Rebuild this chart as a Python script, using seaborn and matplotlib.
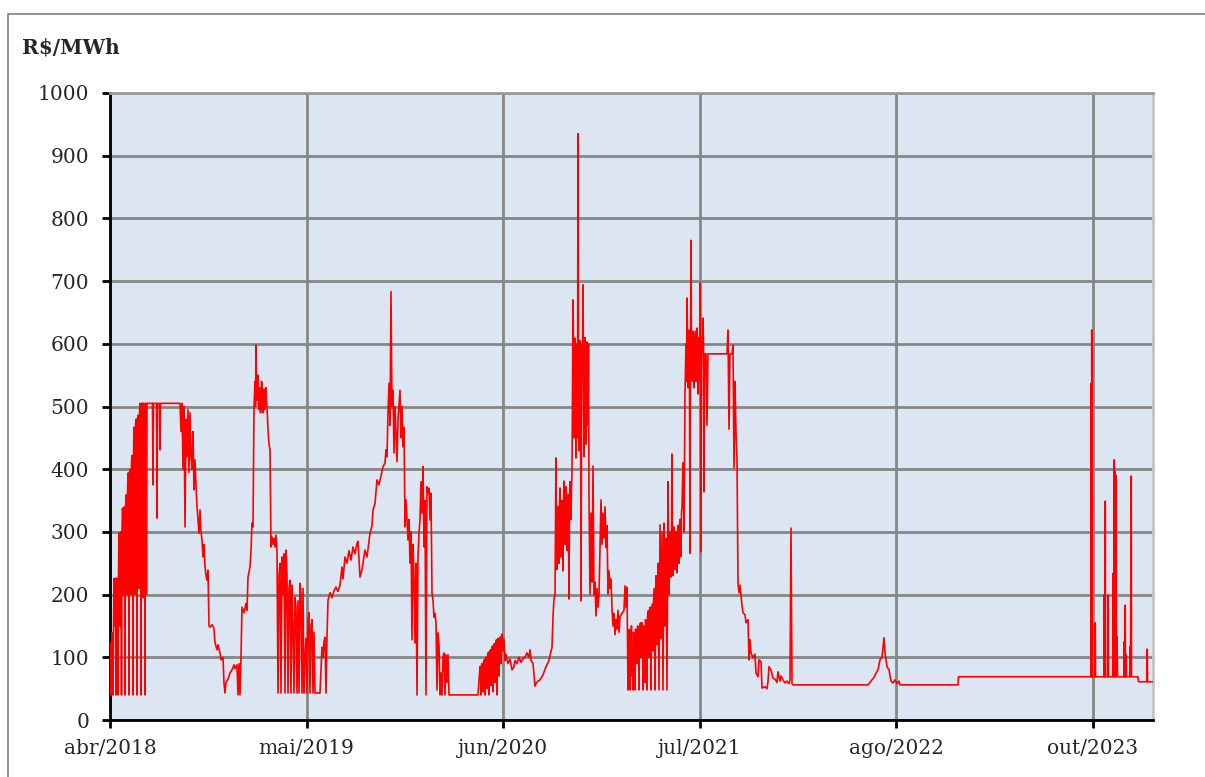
import pandas as pd
import matplotlib
matplotlib.use('Agg')
import matplotlib.pyplot as plt
from matplotlib.patches import Rectangle
import seaborn as sns

# PLD horario (R$/MWh) - pares (dia desde abr/2018, valor)
trecho_2018 = [
  (0, 40), (1, 123), (2, 110), (3, 40), (4, 139), (5, 130), (6, 40), (7, 140), (8, 226),
  (9, 215), (10, 150), (11, 226), (12, 40), (13, 220), (14, 226), (15, 200), (16, 40),
  (17, 230), (18, 298), (19, 280), (20, 150), (21, 300), (22, 290), (23, 40), (24, 300),
  (25, 338), (26, 320), (27, 200), (28, 338), (29, 340), (30, 40), (31, 330), (32, 359),
  (33, 350), (34, 200), (35, 360), (36, 394), (37, 380), (38, 40), (39, 394), (40, 400),
  (41, 390), (42, 200), (43, 410), (44, 422), (45, 415), (46, 40), (47, 420), (48, 467),
  (49, 450), (50, 200), (51, 470), (52, 480), (53, 465), (54, 40), (55, 480), (56, 486),
  (57, 475), (58, 210), (59, 490), (60, 505), (61, 495), (62, 40), (63, 505), (64, 500),
  (65, 505), (66, 195), (67, 505), (68, 505), (69, 490), (70, 40), (71, 505), (72, 505),
  (73, 200), (74, 505), (75, 505), (76, 505), (80, 505),
  (85, 505), (86, 375), (87, 505), (93, 505), (94, 322), (95, 505), (99, 505), (100, 431),
  (101, 505), (140, 505), (142, 460), (144, 505), (146, 400), (148, 500), (150, 308),
  (152, 480), (154, 420), (156, 495), (158, 395), (160, 490), (162, 420), (164, 400),
  (166, 460), (168, 367), (170, 415), (172, 375), (174, 340), (176, 320), (178, 298),
  (180, 335), (182, 300), (184, 287), (186, 260), (188, 280), (190, 245), (192, 230),
  (194, 223), (196, 239), (198, 150), (200, 148), (204, 152), (208, 146), (210, 123),
  (214, 112), (216, 120), (220, 107), (222, 96), (226, 100), (228, 59), (230, 43),
  (232, 60), (236, 65), (240, 75), (244, 80), (248, 88), (250, 82), (254, 88), (256, 40),
  (258, 90), (260, 40), (262, 100), (264, 180), (268, 171), (272, 186), (274, 175),
  (276, 228), (280, 244), (282, 271), (284, 314), (286, 308),
]

trecho_2019 = [
  (288, 499), (289, 520), (290, 540), (291, 500), (292, 598), (293, 530), (294, 510),
  (295, 540), (296, 550), (297, 505), (298, 495), (299, 525), (300, 530), (301, 490),
  (302, 500), (303, 540), (304, 535), (305, 500), (306, 490), (307, 520), (308, 528),
  (309, 495), (310, 505), (311, 525), (312, 530), (313, 510), (314, 500),
  (316, 463), (318, 440), (320, 431), (322, 276), (324, 292), (326, 280), (328, 290),
  (330, 276), (332, 295), (334, 270), (336, 43), (338, 230), (340, 250), (342, 43),
  (344, 260), (346, 200), (348, 265), (350, 43), (352, 271), (354, 230), (356, 43),
  (358, 210), (360, 223), (362, 43), (364, 215), (366, 150), (368, 43), (370, 196),
  (372, 180), (374, 43), (376, 190), (378, 43), (380, 218), (382, 200), (384, 43),
  (386, 210), (388, 43), (390, 100), (392, 130), (394, 43), (396, 160), (398, 171),
  (400, 43), (402, 150), (404, 160), (406, 43), (408, 140), (410, 43), (420, 43),
  (422, 80), (424, 116), (426, 100), (428, 125), (430, 132), (432, 43), (434, 132),
  (436, 191), (440, 203), (444, 195), (448, 206), (452, 212), (456, 205), (460, 215),
  (464, 244), (466, 225), (470, 260), (474, 250), (478, 270), (482, 255), (486, 276),
  (490, 265), (494, 282), (496, 285), (500, 228), (504, 240), (510, 271), (514, 260),
  (520, 298), (524, 310), (526, 335), (530, 345), (534, 383), (538, 375), (546, 404),
  (550, 410), (552, 431), (554, 420), (556, 490), (558, 537), (560, 470), (562, 683),
  (564, 500), (566, 526), (568, 426), (570, 500), (574, 412), (576, 480), (580, 526),
  (582, 450), (584, 500), (586, 436), (588, 467), (590, 308), (592, 351), (594, 320),
  (596, 287), (598, 320), (600, 250), (602, 300), (604, 128), (606, 280), (608, 228),
  (610, 123), (612, 250), (614, 40), (616, 260), (618, 298), (620, 320), (622, 380),
  (624, 330), (626, 404), (628, 276), (630, 350), (632, 40), (634, 372), (636, 362),
  (638, 370), (640, 319), (642, 362), (644, 203), (646, 191), (648, 164), (650, 170),
  (652, 155), (654, 48), (656, 139), (658, 120), (660, 40), (662, 75), (664, 40),
  (666, 100), (668, 107), (670, 40), (672, 104), (674, 60), (676, 104), (678, 40),
  (680, 40), (736, 40),
]

trecho_2020 = [
  (740, 85), (741, 80), (742, 40), (743, 88), (744, 90), (745, 85), (746, 45), (747, 92),
  (748, 95), (749, 96), (750, 40), (751, 98), (752, 100), (753, 95), (754, 50), (755, 102),
  (756, 105), (757, 108), (758, 40), (759, 105), (760, 110), (761, 112), (762, 55),
  (763, 108), (764, 115), (765, 118), (766, 45), (767, 115), (768, 120), (769, 122),
  (770, 60), (771, 118), (772, 125), (773, 128), (774, 40), (775, 125), (776, 130),
  (777, 128), (778, 70), (779, 130), (780, 132), (781, 128), (782, 90), (783, 135),
  (784, 137), (785, 130), (786, 110), (788, 128), (790, 95), (792, 105), (796, 90), (800, 97),
  (804, 80), (808, 85), (810, 95), (814, 90), (818, 100), (822, 92), (826, 98),
  (830, 100), (834, 107), (838, 100), (840, 112), (842, 95), (846, 90), (850, 54),
  (852, 58), (856, 62), (860, 64), (866, 72), (872, 85), (878, 95), (882, 110),
  (884, 115), (886, 166), (888, 193), (890, 200), (892, 418), (893, 300), (894, 240),
  (895, 330), (896, 340), (897, 280), (898, 250), (899, 340), (900, 370), (901, 300),
  (902, 260), (903, 330), (904, 350), (905, 290), (906, 238), (907, 350), (908, 381),
  (909, 320), (910, 280), (911, 350), (912, 372), (913, 300), (914, 270), (915, 340),
  (916, 360), (917, 300), (918, 193), (919, 350), (920, 380), (921, 340), (922, 320),
  (923, 370), (924, 394), (925, 520), (926, 670), (927, 600), (928, 450), (929, 480),
  (930, 609), (931, 560), (932, 418), (933, 590), (934, 600), (935, 450), (936, 935),
  (937, 600), (938, 430), (939, 520), (940, 605), (941, 580), (942, 190), (943, 450),
  (944, 600), (945, 590), (946, 694), (947, 560), (948, 420), (949, 470), (950, 610),
  (951, 595), (952, 440), (953, 500), (954, 603), (955, 560), (956, 470), (957, 600),
  (958, 357), (960, 201), (962, 330), (964, 220), (966, 405),
  (968, 200), (970, 220), (972, 166), (974, 210), (976, 180), (978, 200), (980, 273),
  (982, 351), (984, 280), (986, 330), (988, 290), (990, 340), (992, 275), (994, 310),
  (996, 201), (998, 238), (1000, 210), (1002, 225), (1004, 177), (1006, 150),
  (1008, 170), (1010, 136), (1012, 160), (1014, 145), (1016, 175), (1018, 140),
  (1020, 165), (1024, 170), (1028, 175), (1030, 214), (1032, 180), (1034, 212),
]

trecho_2021 = [
  (1036, 48), (1037, 130), (1038, 144), (1039, 120), (1040, 48), (1041, 135), (1042, 140),
  (1043, 150), (1044, 70), (1045, 120), (1046, 48), (1047, 140), (1048, 130), (1049, 125),
  (1050, 48), (1051, 145), (1052, 140), (1053, 135), (1054, 90), (1055, 150), (1056, 148),
  (1057, 140), (1058, 48), (1059, 145), (1060, 150), (1061, 155), (1062, 100), (1063, 140),
  (1064, 155), (1065, 150), (1066, 48), (1067, 150), (1068, 145), (1069, 140), (1070, 60),
  (1071, 160), (1072, 150), (1073, 150), (1074, 48), (1075, 165), (1076, 170), (1077, 175),
  (1078, 100), (1079, 160), (1080, 180), (1081, 170), (1082, 48), (1083, 180), (1084, 175),
  (1085, 185), (1086, 110), (1087, 190), (1088, 200), (1089, 210), (1090, 48),
  (1092, 230), (1094, 120), (1096, 250), (1098, 48), (1100, 311), (1102, 130), (1104, 300),
  (1106, 48), (1108, 314), (1110, 150), (1112, 290), (1114, 48), (1116, 380), (1118, 200),
  (1120, 300), (1121, 260), (1122, 228), (1123, 290), (1124, 424), (1125, 280), (1126, 230),
  (1127, 290), (1128, 308), (1129, 260), (1130, 240), (1131, 300), (1132, 300), (1133, 250),
  (1134, 235), (1135, 300), (1136, 310), (1137, 270), (1138, 250), (1139, 310), (1140, 320),
  (1141, 280), (1142, 260), (1143, 330), (1144, 340), (1146, 410), (1148, 300), (1150, 520),
  (1151, 560), (1152, 600), (1153, 540), (1154, 673), (1155, 600), (1156, 530), (1157, 610),
  (1158, 622), (1159, 540), (1160, 266), (1161, 600), (1162, 765), (1163, 590), (1164, 560),
  (1165, 540), (1166, 620), (1167, 600), (1168, 530), (1169, 560), (1170, 610), (1171, 620),
  (1172, 540), (1173, 560), (1174, 625), (1175, 590), (1176, 520), (1177, 610), (1178, 600),
  (1179, 540), (1180, 697), (1181, 600), (1182, 268), (1183, 560), (1184, 610), (1185, 590),
  (1186, 641), (1187, 600), (1188, 364), (1189, 540),
  (1190, 584), (1192, 584), (1194, 470), (1196, 584), (1234, 584), (1236, 622), (1238, 464),
  (1240, 584), (1244, 584), (1246, 598), (1248, 402), (1250, 540), (1252, 457), (1254, 415),
  (1256, 218), (1258, 203), (1260, 215), (1264, 183), (1266, 171), (1270, 168), (1272, 155),
  (1276, 160), (1278, 96), (1280, 128), (1282, 107), (1286, 99), (1290, 105), (1292, 75),
  (1296, 69), (1298, 96), (1302, 93), (1304, 51), (1310, 53), (1314, 50), (1316, 61),
  (1318, 85), (1322, 80), (1326, 67), (1330, 65), (1334, 60), (1336, 77), (1340, 62),
  (1342, 70), (1346, 64), (1350, 59), (1354, 62), (1358, 58), (1360, 64), (1362, 306),
  (1364, 58), (1366, 56),
]

trecho_2022 = [
  (1516, 56), (1522, 62), (1528, 68), (1532, 75), (1536, 80), (1540, 96), (1544, 100),
  (1548, 131), (1550, 107), (1554, 85), (1558, 80), (1562, 62), (1566, 59), (1570, 64),
  (1574, 58), (1578, 62), (1580, 56), (1696, 56),
]

trecho_2023 = [
  (1697, 69), (1962, 69), (1962.5, 537), (1963, 69), (1963.5, 622), (1964, 351), (1964.5, 69),
  (1970, 69), (1970.5, 155), (1971, 69), (1988, 69), (1988.5, 199), (1989, 69),
  (1990, 69), (1990.5, 349), (1991, 136), (1991.5, 69), (1996, 69), (1996.5, 199),
  (1997, 69), (2006, 69), (2006.5, 234), (2007, 69), (2008, 69), (2008.5, 415), (2009, 69),
  (2010, 396), (2011, 69), (2012, 390), (2013, 69), (2014, 133), (2015, 69), (2028, 69),
  (2028.5, 125), (2029, 69), (2030, 69), (2030.5, 183), (2031, 69), (2032, 69),
  (2032.5, 104), (2033, 69), (2040, 69), (2040.5, 117), (2041, 69), (2042, 324),
  (2042.5, 389), (2043, 69), (2056, 69),
]

trecho_2024 = [
  (2057, 61), (2074, 61), (2074.5, 113), (2075, 61), (2086, 61),
]

rotulos_x = ['abr/2018', 'mai/2019', 'jun/2020', 'jul/2021', 'ago/2022', 'out/2023']
ticks_x = [0, 393, 786, 1179, 1572, 1965]
ticks_y = list(range(0, 1001, 100))

trechos = trecho_2018 + trecho_2019 + trecho_2020 + trecho_2021 + trecho_2022 + trecho_2023 + trecho_2024
df = pd.DataFrame(trechos, columns=['dia', 'pld'])

sns.set_style('white')
plt.rcParams['font.family'] = ['DejaVu Serif']
# sem simplificacao, senao as oscilacoes densas somem
plt.rcParams['path.simplify'] = False

fig = plt.figure(figsize=(12.05, 7.77), dpi=100)
ax = fig.add_axes([110/1205, 1 - 720/777, 1043/1205, 627/777])
ax.set_facecolor('#DCE6F2')

sns.lineplot(data=df, x='dia', y='pld', ax=ax, color='#FF0000', lw=1.2,
             estimator=None, sort=False, zorder=3)

ax.set_xlim(0, 2086)
ax.set_ylim(0, 1000)
ax.set_xticks(ticks_x)
ax.set_xticklabels(rotulos_x)
ax.set_yticks(ticks_y)
ax.set_xlabel('')
ax.set_ylabel('')

ax.grid(True, color='#868686', lw=2, zorder=1)
ax.set_axisbelow(True)

for lado in ['left', 'bottom']:
  ax.spines[lado].set_color('black')
  ax.spines[lado].set_linewidth(2)
ax.spines['top'].set_color('#9A9A9A')
ax.spines['top'].set_linewidth(2)
ax.spines['right'].set_color('#C4C4C4')
ax.spines['right'].set_linewidth(2)

ax.tick_params(axis='y', direction='out', length=6, width=2, color='black',
               labelsize=14.5, pad=9, left=True)
ax.tick_params(axis='x', direction='out', length=6, width=2, color='black',
               labelsize=14.5, pad=8, bottom=True)

fig.text(22/1205, 1 - 47/777, 'R$/MWh', fontsize=14.5, fontweight='bold',
         ha='left', va='center')

# moldura do grafico
fig.patches.append(Rectangle((8/1205, -0.1), 1.2, 1.1 - 14/777, transform=fig.transFigure,
                             fill=False, edgecolor='#7F7F7F', lw=1.2, figure=fig))

fig.savefig('out.png', dpi=100)
